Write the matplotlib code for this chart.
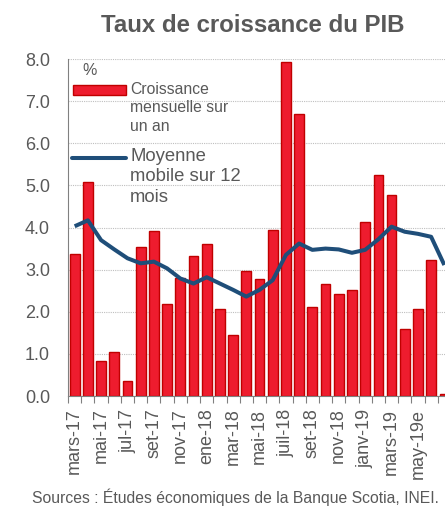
import matplotlib.pyplot as plt
import numpy as np
from matplotlib.lines import Line2D
from matplotlib.patches import Rectangle

plt.rcParams['font.family'] = ['Liberation Sans', 'DejaVu Sans']

# Croissance mensuelle sur un an (%), mars-17 .. jul-19
growth = [3.36, 5.09, 0.84, 1.04, 0.35, 3.54, 3.92, 2.18, 2.81, 3.32,
          3.62, 2.07, 1.46, 2.97, 2.78, 3.94, 7.92, 6.69, 2.11, 2.67,
          2.41, 2.52, 4.12, 5.24, 4.78, 1.60, 2.07, 3.22, 0.04]
# Moyenne mobile sur 12 mois (%)
moving_avg = [4.03, 4.17, 3.70, 3.48, 3.27, 3.15, 3.19, 3.03, 2.79, 2.67,
              2.82, 2.67, 2.52, 2.36, 2.52, 2.75, 3.35, 3.62, 3.47, 3.50,
              3.48, 3.40, 3.47, 3.72, 4.02, 3.90, 3.85, 3.78, 3.11]
month_labels = ['mars-17', 'mai-17', 'jul-17', 'set-17', 'nov-17', 'ene-18',
                'mar-18', 'mai-18', 'juil-18', 'set-18', 'nov-18', 'janv-19',
                'mars-19', 'may-19e']

GREY = '#595959'
BAR_FACE = '#EE1C2E'
BAR_EDGE = '#C00000'
LINE_BLUE = '#1F4E79'

fig = plt.figure(figsize=(4.45, 5.09), dpi=100)
ax = fig.add_axes([0.153, 0.222, 0.890, 0.662])

x = np.arange(len(growth))
ax.bar(x, growth, width=0.73, color=BAR_FACE, edgecolor=BAR_EDGE,
       linewidth=1.0, zorder=2)
ax.plot(x, moving_avg, color=LINE_BLUE, linewidth=2.9, zorder=3,
        solid_joinstyle='round', solid_capstyle='butt')

ax.set_xlim(-0.5, 29.5)
ax.set_ylim(0, 8)
ax.set_yticks(np.arange(0, 8.1, 1))
ax.set_yticklabels([f'{v:.1f}' for v in np.arange(0, 8.1, 1)])
ax.yaxis.grid(True, linestyle=(0, (1, 1)), color='#BFBFBF', linewidth=0.8)
ax.set_axisbelow(True)

# ticks at category boundaries, labels under every second month
ax.set_xticks(np.arange(-0.5, 29.6, 1))
ax.set_xticklabels([])
ax.set_xticks(np.arange(0, 2 * len(month_labels), 2), minor=True)
ax.set_xticklabels(month_labels, minor=True, rotation=90)
ax.tick_params(axis='x', which='major', length=5, color='#808080', width=0.8)
ax.tick_params(axis='x', which='minor', length=0, pad=9, labelsize=13,
               labelcolor=GREY)
ax.tick_params(axis='y', length=0, pad=13, labelsize=13, labelcolor=GREY)

for side in ('top', 'right'):
    ax.spines[side].set_visible(False)
for side in ('left', 'bottom'):
    ax.spines[side].set_color('#808080')
    ax.spines[side].set_linewidth(0.8)

# legend drawn by hand in axes coordinates
to_ax = lambda px, py: ((px - 68) / 396.0, (396 - py) / 337.0)
ax.text(*to_ax(82, 70), '%', fontsize=11.5, color=GREY, va='center',
        ha='left', transform=ax.transAxes)
x0, y0 = to_ax(73, 95)
x1, y1 = to_ax(126, 85)
ax.add_patch(Rectangle((x0, y0), x1 - x0, y1 - y0, transform=ax.transAxes,
                       facecolor=BAR_FACE, edgecolor=BAR_EDGE, linewidth=1.0,
                       zorder=4, clip_on=False))
ax.text(*to_ax(130, 82), 'Croissance\nmensuelle sur\nun an', fontsize=11.3,
        color=GREY, va='top', ha='left', linespacing=1.28,
        transform=ax.transAxes, zorder=4)
lx0, ly = to_ax(72, 158)
lx1, _ = to_ax(126, 158)
ax.add_line(Line2D([lx0, lx1], [ly, ly], color=LINE_BLUE, linewidth=2.9,
                   solid_capstyle='round', transform=ax.transAxes, zorder=4))
ax.text(*to_ax(130, 148), 'Moyenne\nmobile sur 12\nmois', fontsize=13.3,
        color=GREY, va='top', ha='left', linespacing=1.25,
        transform=ax.transAxes, zorder=4)

fig.text(0.567, 0.949, 'Taux de croissance du PIB', fontsize=17.3,
         fontweight='bold', color=GREY, ha='center', va='center')
fig.text(0.528, 0.024, 'Sources : Études économiques de la Banque Scotia, INEI.',
         fontsize=11.3, color=GREY, ha='center', va='center')

fig.savefig('out.png', dpi=100)
